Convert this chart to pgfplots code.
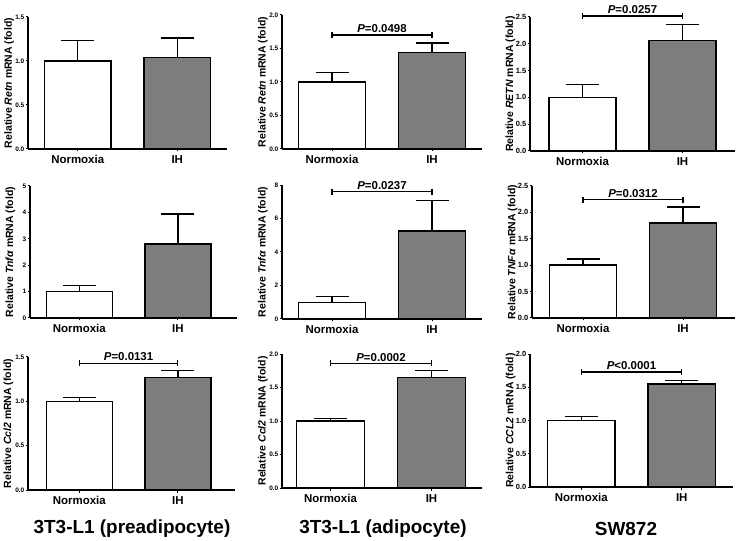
\documentclass[border=0pt]{standalone}
\usepackage{pgfplots}
\pgfplotsset{compat=1.18}
\usepackage{fontspec}
\setmainfont{Liberation Sans}
\definecolor{ihgray}{RGB}{125,125,125}
\pgfplotsset{
  panel/.style={
    scale only axis, axis lines=left, axis line style={-, line width=1.3bp},
    anchor=south west, clip=false,
    xtick={0,1}, xticklabels={Normoxia,IH},
    x tick label style={font=\bfseries\fontsize{11.5}{13}\selectfont, inner sep=3.5bp},
    y tick label style={font=\bfseries\fontsize{6.5}{7}\selectfont, inner sep=1bp},
    /pgf/number format/assume math mode=true,
    tick align=outside, major tick length=2.5bp, tick style={line width=1bp, black},
    ymin=0,
    ylabel style={at={(axis description cs:-0.095,0.5)}, anchor=center, font=\bfseries\fontsize{10.5}{12}\selectfont},
  },
  dec/.style={yticklabel style={/pgf/number format/fixed, /pgf/number format/fixed zerofill, /pgf/number format/precision=1}},
  nbar/.style={ybar, bar width=0.67, bar shift=0pt, fill=white, draw=black, line width=1.4bp,
    error bars/y dir=plus, error bars/y explicit, error bars/error mark=|,
    error bars/error bar style={line width=1.4bp, black},
    error bars/error mark options={mark size=16.5bp, line width=1.4bp, black}},
  ibar/.style={nbar, fill=ihgray},
}
\newcommand{\bracket}[2]{%
  \draw[line width=1.3bp] (axis cs:0,#1) -- (axis cs:1,#1);
  \draw[line width=1.3bp] ([yshift=-3bp]axis cs:0,#1) -- ([yshift=3bp]axis cs:0,#1);
  \draw[line width=1.3bp] ([yshift=-3bp]axis cs:1,#1) -- ([yshift=3bp]axis cs:1,#1);
  \node[above, inner sep=2bp, font=\bfseries\fontsize{11.5}{13}\selectfont] at (axis cs:0.5,#1) {#2};
}
\begin{document}
\begin{tikzpicture}
\useasboundingbox (0,0) rectangle (737bp,541bp);
% Row 1
\begin{axis}[panel, dec, at={(28bp,392bp)}, width=199bp, height=132bp, xmin=-0.5, xmax=1.5,
  ymax=1.5, ytick={0,0.5,1,1.5}, ylabel={Relative \textit{Retn} mRNA (fold)}]
\addplot[nbar] coordinates {(0,1.00) +- (0,0.23)};
\addplot[ibar] coordinates {(1,1.04) +- (0,0.22)};
\end{axis}
\begin{axis}[panel, dec, at={(282bp,392bp)}, width=200bp, height=134bp, xmin=-0.5, xmax=1.5,
  ymax=2, ytick={0,0.5,1,1.5,2}, ylabel={Relative \textit{Retn} mRNA (fold)}]
\addplot[nbar] coordinates {(0,1.00) +- (0,0.14)};
\addplot[ibar] coordinates {(1,1.44) +- (0,0.14)};
\bracket{1.7}{\textit{P}=0.0498}
\end{axis}
\begin{axis}[panel, dec, at={(530bp,390bp)}, width=205bp, height=134bp, xmin=-0.525, xmax=1.525,
  ymax=2.5, ytick={0,0.5,1,1.5,2,2.5}, ylabel={Relative \textit{RETN} mRNA (fold)},
  y tick label style={font=\bfseries\fontsize{7.5}{8}\selectfont}]
\addplot[nbar] coordinates {(0,1.00) +- (0,0.24)};
\addplot[ibar] coordinates {(1,2.06) +- (0,0.30)};
\bracket{2.52}{\textit{P}=0.0257}
\end{axis}
% Row 2
\begin{axis}[panel, at={(30bp,223bp)}, width=207bp, height=132bp, xmin=-0.5, xmax=1.6,
  ymax=5, ytick={0,1,2,3,4,5}, ylabel={Relative \textit{Tnfα} mRNA (fold)}]
\addplot[nbar] coordinates {(0,1.00) +- (0,0.22)};
\addplot[ibar] coordinates {(1,2.81) +- (0,1.13)};
\end{axis}
\begin{axis}[panel, at={(282bp,222bp)}, width=200bp, height=134bp, xmin=-0.5, xmax=1.5,
  ymax=8, ytick={0,2,4,6,8}, ylabel={Relative \textit{Tnfα} mRNA (fold)}]
\addplot[nbar] coordinates {(0,1.00) +- (0,0.36)};
\addplot[ibar] coordinates {(1,5.25) +- (0,1.84)};
\bracket{7.6}{\textit{P}=0.0237}
\end{axis}
\begin{axis}[panel, dec, at={(532bp,223bp)}, width=203bp, height=132bp, xmin=-0.51, xmax=1.52,
  ymax=2.5, ytick={0,0.5,1,1.5,2,2.5}, ylabel={Relative \textit{TNFα} mRNA (fold)},
  y tick label style={font=\bfseries\fontsize{7.5}{8}\selectfont}]
\addplot[nbar] coordinates {(0,1.00) +- (0,0.12)};
\addplot[ibar] coordinates {(1,1.80) +- (0,0.30)};
\bracket{2.24}{\textit{P}=0.0312}
\end{axis}
% Row 3
\begin{axis}[panel, dec, at={(28bp,51bp)}, width=207bp, height=133bp, xmin=-0.52, xmax=1.58,
  ymax=1.5, ytick={0,0.5,1,1.5}, ylabel={Relative \textit{Ccl2} mRNA (fold)}]
\addplot[nbar] coordinates {(0,1.00) +- (0,0.04)};
\addplot[ibar] coordinates {(1,1.27) +- (0,0.08)};
\bracket{1.43}{\textit{P}=0.0131}
\end{axis}
\begin{axis}[panel, dec, at={(282bp,53bp)}, width=200bp, height=134bp, xmin=-0.48, xmax=1.5,
  ymax=2, ytick={0,0.5,1,1.5,2}, ylabel={Relative \textit{Ccl2} mRNA (fold)}]
\addplot[nbar] coordinates {(0,1.00) +- (0,0.04)};
\addplot[ibar] coordinates {(1,1.65) +- (0,0.10)};
\bracket{1.86}{\textit{P}=0.0002}
\end{axis}
\begin{axis}[panel, dec, at={(530bp,54bp)}, width=203bp, height=133bp, xmin=-0.51, xmax=1.51,
  ymax=2, ytick={0,0.5,1,1.5,2}, ylabel={Relative \textit{CCL2} mRNA (fold)},
  y tick label style={font=\bfseries\fontsize{7.5}{8}\selectfont}]
\addplot[nbar] coordinates {(0,1.00) +- (0,0.06)};
\addplot[ibar] coordinates {(1,1.55) +- (0,0.05)};
\bracket{1.73}{\textit{P}<0.0001}
\end{axis}
% Column titles
\node[font=\bfseries\fontsize{19}{22}\selectfont] at (132bp,12bp) {3T3-L1 (preadipocyte)};
\node[font=\bfseries\fontsize{19}{22}\selectfont] at (383bp,12bp) {3T3-L1 (adipocyte)};
\node[font=\bfseries\fontsize{19}{22}\selectfont] at (626bp,12bp) {SW872};
\end{tikzpicture}
\end{document}
